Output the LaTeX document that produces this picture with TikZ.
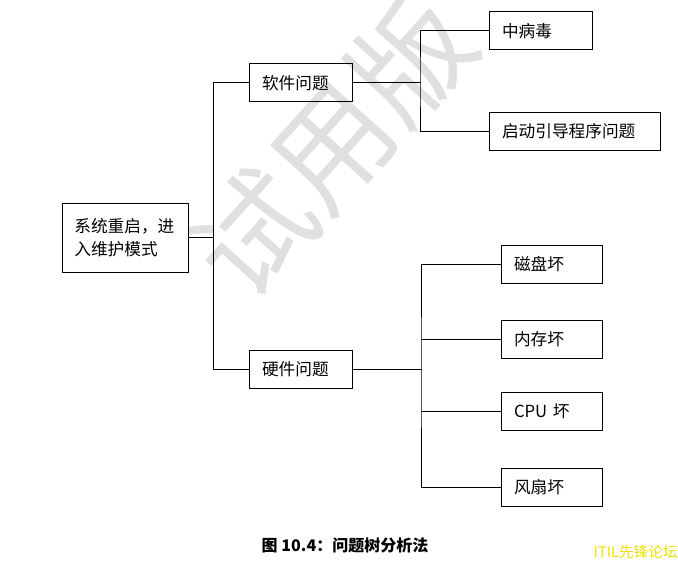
\documentclass[tikz,border=0pt]{standalone}
\usepackage{fontspec}
\setmainfont{Noto Sans CJK SC}
\usepackage{xcolor}
\usepackage{tikz}
\usetikzlibrary{positioning}
\definecolor{qtInk}{HTML}{000000}
\definecolor{qtWater}{HTML}{E0E0E0}
\definecolor{qtBrand}{HTML}{EEE000}
\tikzset{
  qt diagram/.style={x=0.75pt, y=-0.75pt, text=qtInk,
    line cap=rect, line join=miter},
  qt box/.style={draw=qtInk, line width=0.75pt, align=left,
    inner xsep=9.75pt, inner ysep=0pt, minimum height=28.5pt,
    font=\fontsize{12.5}{17.25}\selectfont},
  qt leaf/.style={qt box, text width=56.25pt},
  qt line/.style={draw=qtInk, line width=0.75pt},
  qt caption/.style={font=\fontsize{12}{12}\selectfont\bfseries, inner sep=0pt},
  qt brand/.style={font=\fontsize{11}{11}\selectfont, text=qtBrand, inner sep=0pt},
  qt water/.style={font=\fontsize{88}{88}\selectfont, text=qtWater, rotate=48, inner sep=0pt}
}

\begin{document}
\begin{tikzpicture}[qt diagram]
\useasboundingbox (0,0) rectangle (678,563);
\node[qt water] (watermark) at (332,146) {试用版};
\node[qt box, text width=76pt, minimum height=51.75pt, inner xsep=9.25pt] (reboot) at (125,237.5) {系统重启，进\\入维护模式};
\node[qt box, text width=57.75pt] (software) at (300.5,83) {软件问题};
\node[qt box, text width=57.75pt] (hardware) at (300.5,369) {硬件问题};
\node[qt box, text width=57.75pt] (virus) at (540.5,31) {中病毒};
\node[qt box, text width=108.75pt] (boot) at (574.5,131.5) {启动引导程序问题};
\foreach \name/\y/\txt in {disk/264/磁盘坏,memory/339/内存坏,cpu/411/CPU 坏,fan/487.5/风扇坏}
  \node[qt leaf] (\name) at (551.5,\y) {\txt};
\draw[qt line] (reboot.east) -- ++(25,0) coordinate (trunk);
\draw[qt line] (software.west) -| (trunk) |- (hardware.west);
\draw[qt line] (software.east) -- (420,83) coordinate (swfork);
\draw[qt line] (virus.west) -| (swfork) |- (boot.west);
\draw[qt line] (hardware.east) -- (421,369) coordinate (hwfork);
\draw[qt line] (disk.west) -| (hwfork) |- (fan.west);
\foreach \name in {memory,cpu}
  \draw[qt line] (\name.west) -- (\name.west -| hwfork);
\node[qt caption] (caption) at (345,545) {图 10.4：问题树分析法};
\node[qt brand, anchor=east] (brand) at (678,552) {ITIL先锋论坛};
\end{tikzpicture}
\end{document}
